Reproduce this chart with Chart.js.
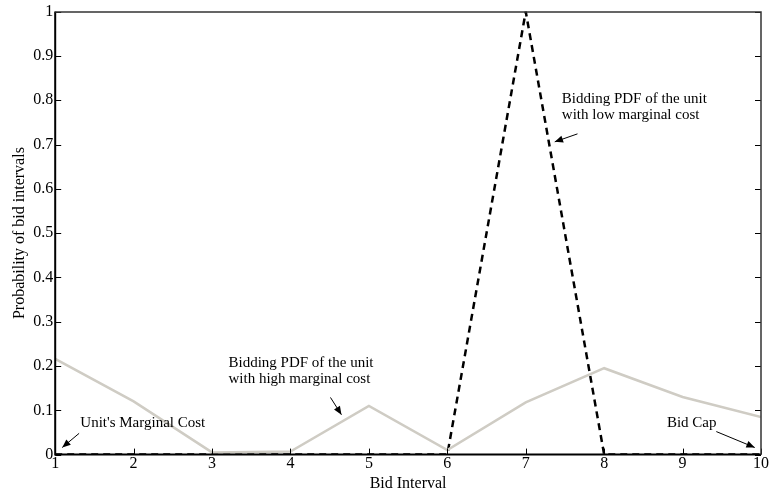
<!DOCTYPE html>
<html>
<head>
<meta charset="utf-8">
<script src="https://cdn.jsdelivr.net/npm/chart.js@4"></script>
<style>
  html, body { margin: 0; padding: 0; background: #fff; }
  #wrap { width: 769px; height: 493px; }
</style>
</head>
<body>
<div id="wrap"><canvas id="myChart"></canvas></div>
<script>
// bid intervals 1..10
const bidIntervals = [1, 2, 3, 4, 5, 6, 7, 8, 9, 10];
// unit with high marginal cost (grey solid)
const highCostPdf = [0.216, 0.12, 0.005, 0.007, 0.11, 0.01, 0.118, 0.195, 0.13, 0.085];
// unit with low marginal cost (black dashed)
const lowCostPdf = [0, 0, 0, 0, 0, 0, 1, 0, 0, 0];
const yTicks = [0, 0.1, 0.2, 0.3, 0.4, 0.5, 0.6, 0.7, 0.8, 0.9, 1];

// text + arrow notes, in data units
const notes = [
  { lines: ["Unit's Marginal Cost"], x: 1.32, y: 0.072, from: [1.305, 0.048], to: [1.09, 0.016] },
  { lines: ['Bidding PDF of the unit', 'with high marginal cost'], x: 3.21, y: 0.206, from: [4.51, 0.129], to: [4.65, 0.09] },
  { lines: ['Bidding PDF of the unit', 'with low marginal cost'], x: 7.46, y: 0.803, from: [7.66, 0.724], to: [7.37, 0.706] },
  { lines: ['Bid Cap'], x: 8.8, y: 0.072, from: [9.43, 0.052], to: [9.92, 0.016] },
];

const serif = 'Liberation Serif, Times New Roman, serif';

const toXY = (ys) => bidIntervals.map((x, i) => ({ x: x, y: ys[i] }));

// ticks pointing inwards + box + notes
const matlabAxes = {
  id: 'matlabAxes',
  afterDatasetsDraw(chart) {
    const { ctx, chartArea: a, scales: { x, y } } = chart;
    ctx.save();
    ctx.strokeStyle = '#000';
    ctx.lineWidth = 1;
    ctx.beginPath();
    x.ticks.forEach(t => {
      const px = Math.round(x.getPixelForValue(t.value)) + 0.5;
      ctx.moveTo(px, a.bottom); ctx.lineTo(px, a.bottom - 6);
    });
    y.ticks.forEach(t => {
      const py = Math.round(y.getPixelForValue(t.value)) + 0.5;
      ctx.moveTo(a.left, py); ctx.lineTo(a.left + 6, py);
      ctx.moveTo(a.right, py); ctx.lineTo(a.right - 6, py);
    });
    ctx.stroke();
    // box
    ctx.lineWidth = 2;
    ctx.beginPath();
    ctx.moveTo(a.left, a.top); ctx.lineTo(a.left, a.bottom); ctx.lineTo(a.right, a.bottom);
    ctx.stroke();
    ctx.lineWidth = 1.5;
    ctx.strokeStyle = '#333';
    ctx.beginPath();
    ctx.moveTo(a.left, a.top + 0.5); ctx.lineTo(a.right, a.top + 0.5); ctx.lineTo(a.right, a.bottom);
    ctx.stroke();

    // notes
    ctx.fillStyle = '#000';
    ctx.strokeStyle = '#000';
    ctx.font = '15px ' + serif;
    ctx.textBaseline = 'middle';
    ctx.textAlign = 'left';
    notes.forEach(n => {
      const tx = x.getPixelForValue(n.x);
      const ty = y.getPixelForValue(n.y);
      n.lines.forEach((s, i) => ctx.fillText(s, tx, ty + i * 16));
      const x0 = x.getPixelForValue(n.from[0]), y0 = y.getPixelForValue(n.from[1]);
      const x1 = x.getPixelForValue(n.to[0]), y1 = y.getPixelForValue(n.to[1]);
      ctx.lineWidth = 1;
      ctx.beginPath();
      ctx.moveTo(x0, y0); ctx.lineTo(x1, y1);
      ctx.stroke();
      const ang = Math.atan2(y1 - y0, x1 - x0);
      const L = 9, W = 0.4;
      ctx.beginPath();
      ctx.moveTo(x1, y1);
      ctx.lineTo(x1 - L * Math.cos(ang - W), y1 - L * Math.sin(ang - W));
      ctx.lineTo(x1 - L * Math.cos(ang + W), y1 - L * Math.sin(ang + W));
      ctx.closePath();
      ctx.fill();
    });
    ctx.restore();
  }
};

const data = {
  datasets: [
    {
      label: 'high marginal cost',
      data: toXY(highCostPdf),
      borderColor: '#cfccc4',
      borderWidth: 2.5,
      pointRadius: 0,
      tension: 0,
    },
    {
      label: 'low marginal cost',
      data: toXY(lowCostPdf),
      borderColor: '#000',
      borderWidth: 2.5,
      borderDash: [7, 5],
      pointRadius: 0,
      tension: 0,
    },
  ],
};

const config = {
  type: 'line',
  data: data,
  options: {
    responsive: true,
    maintainAspectRatio: false,
    animation: false,
    layout: { padding: { left: 10, top: 6, right: -2, bottom: 0 } },
    scales: {
      x: {
        type: 'linear',
        min: 1,
        max: 10,
        afterBuildTicks: (s) => { s.ticks = bidIntervals.map(v => ({ value: v })); },
        ticks: { color: '#000', font: { family: serif, size: 16 }, padding: 0, maxRotation: 0, callback: (v) => String(v) },
        grid: { display: false, drawTicks: false },
        border: { display: false },
        title: { display: true, text: 'Bid Interval', color: '#000', font: { family: serif, size: 16 }, padding: { top: 0, bottom: 0 } },
      },
      y: {
        min: 0,
        max: 1,
        afterBuildTicks: (s) => { s.ticks = yTicks.map(v => ({ value: v })); },
        ticks: { color: '#000', font: { family: serif, size: 16 }, padding: 2, callback: (v) => String(v) },
        grid: { display: false, drawTicks: false },
        border: { display: false },
        title: { display: true, text: 'Probability of bid intervals', color: '#000', font: { family: serif, size: 16 }, padding: { top: 0, bottom: 2 } },
      },
    },
    plugins: {
      legend: { display: false },
      tooltip: { enabled: false },
    },
  },
  plugins: [matlabAxes],
};

const myChart = new Chart(document.getElementById('myChart'), config);
</script>
</body>
</html>
